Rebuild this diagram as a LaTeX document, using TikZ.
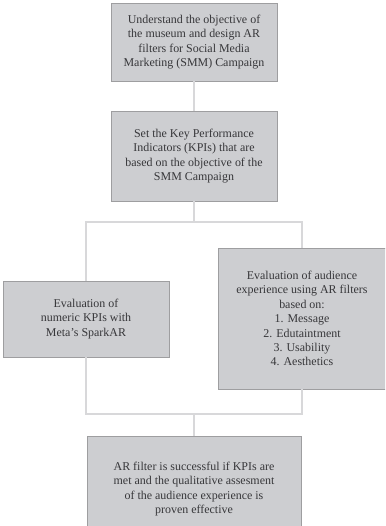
\documentclass[tikz,border=0pt]{standalone}
\usepackage{fontspec}
\setmainfont{Liberation Serif}
\usepackage{xcolor}
\definecolor{kastengrau}{RGB}{205,206,209}
\definecolor{randgrau}{RGB}{158,158,160}
\definecolor{liniengrau}{RGB}{216,216,218}
\definecolor{textgrau}{RGB}{55,55,58}

\begin{document}
\begin{tikzpicture}[x=1bp, y=-1bp,
        kasten/.style={draw=randgrau, fill=kastengrau, line width=0.8bp, align=center,
            text=textgrau, inner sep=0pt, font=\fontsize{12}{14.5}\selectfont},
        verbindung/.style={liniengrau, line width=1.4bp}]
        % Rahmen
        \useasboundingbox (0,0) rectangle (385,526);
        \clip (0,0) rectangle (385,526);

        % Kaesten
        \node[kasten, minimum width=166bp, minimum height=78bp] (ziel) at (194,42)
            {Understand the objective of\\the museum and design AR\\filters for Social Media\\Marketing (SMM) Campaign};
        \node[kasten, minimum width=166bp, minimum height=90bp] (kpi) at (194,156)
            {Set the Key Performance\\Indicators (KPIs) that are\\based on the objective of the\\SMM Campaign};
        \node[kasten, minimum width=166bp, minimum height=76bp] (numerisch) at (86,319)
            {Evaluation of\\numeric KPIs with\\Meta's SparkAR};
        \node[kasten, minimum width=168bp, minimum height=141bp] (erlebnis) at (302,318.5)
            {Evaluation of audience\\experience using AR filters\\based on:\\1. Message\\2. Edutaintment\\3. Usability\\4. Aesthetics};
        \node[kasten, minimum width=214bp, minimum height=106bp] (ergebnis) at (194,489)
            {AR filter is successful if KPIs are\\met and the qualitative assesment\\of the audience experience is\\proven effective};

        % Verzweigungen
        \coordinate (oben) at (194,222);
        \coordinate (unten) at (194,414);

        % Verbindungen
        \draw[verbindung] (ziel.south) -- (kpi.north);
        \draw[verbindung] (kpi.south) -- (oben);
        \draw[verbindung] (numerisch.north) |- (erlebnis.north |- oben) -- (erlebnis.north);
        \draw[verbindung] (numerisch.south) |- (erlebnis.south |- unten) -- (erlebnis.south);
        \draw[verbindung] (unten) -- (ergebnis.north);
\end{tikzpicture}
\end{document}
